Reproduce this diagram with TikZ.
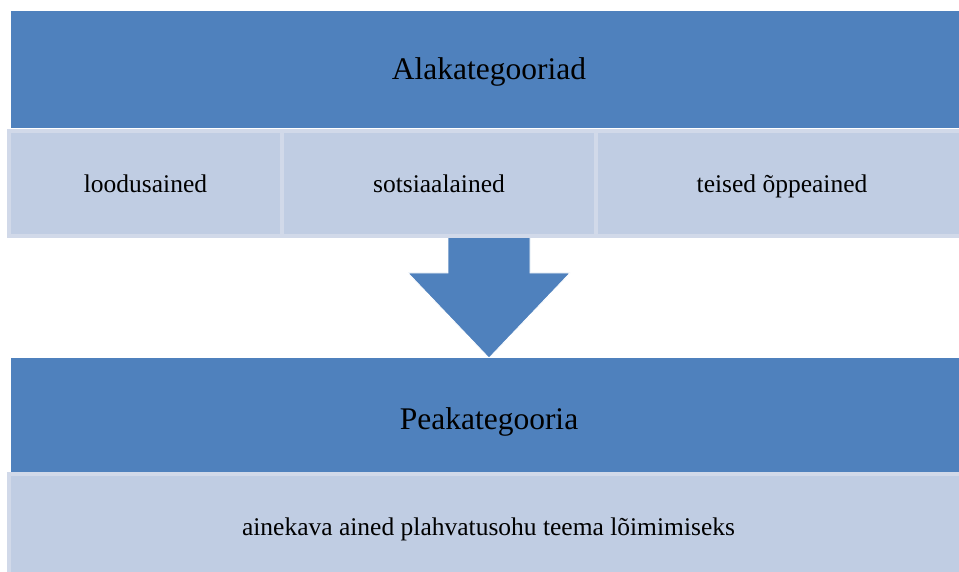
\documentclass[tikz,border=0pt]{standalone}
\usepackage{fontspec}
\setmainfont{Liberation Serif}
\usepackage{xcolor}
\usepackage{tikz}
\usetikzlibrary{positioning}

\definecolor{accentblue}{RGB}{79,129,189}
\definecolor{tintfill}{RGB}{192,205,227}
\definecolor{tintline}{RGB}{209,217,233}

\begin{document}
\begin{tikzpicture}[
    x=1pt,y=-1pt,
    hdr/.style={fill=accentblue,outer sep=0pt,inner sep=0pt,minimum height=117pt,minimum width=956pt,
      text height=27pt,text depth=6pt,font=\fontsize{31.5}{36}\selectfont},
    sub/.style={fill=tintfill,draw=tintline,line width=4pt,outer sep=0pt,inner sep=0pt,minimum height=105pt,
      text height=23pt,text depth=5pt,font=\fontsize{25.5}{30}\selectfont},
    bigarrow/.style={fill=accentblue,draw=white,line width=0.8pt,line join=miter}
  ]
    \useasboundingbox (0,0) rectangle (959,572);
    \clip (0,0) rectangle (959,572);
    % block arrow between the two groups
    \coordinate (arrtop) at (489,236);
    \filldraw[bigarrow] (arrtop) ++(-41,0) -- ++(0,37) -- ++(-40,0) -- ++(81,85) -- ++(81,-85) -- ++(-40,0) -- ++(0,-37) -- cycle;
    % upper group
    \node[hdr,anchor=north west] (alak) at (11,11) {Alakategooriad};
    \node[sub,minimum width=273pt,anchor=north west] (loodus) at (9,131) {loodusained};
    \node[sub,minimum width=314pt,right=0pt of loodus] (sots) {sotsiaalained};
    \node[sub,minimum width=372pt,right=0pt of sots] (teised) {teised õppeained};
    % lower group
    \node[hdr,minimum height=114pt,text height=33pt,text depth=5pt,anchor=north west] (peak) at (11,358) {Peakategooria};
    \node[sub,minimum width=959pt,text height=22pt,anchor=north west] (ained) at (9,474) {ainekava ained plahvatusohu teema lõimimiseks};
  \end{tikzpicture}
\end{document}
